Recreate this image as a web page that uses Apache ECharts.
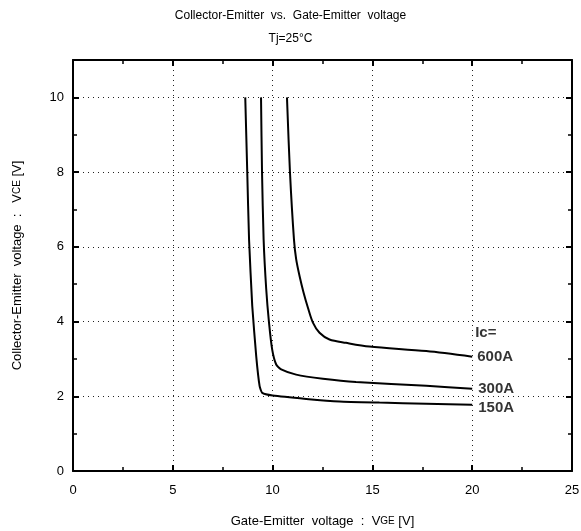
<!DOCTYPE html>
<html><head><meta charset="utf-8">
<script src="https://cdn.jsdelivr.net/npm/echarts@6/dist/echarts.min.js"></script>
<style>html,body{margin:0;padding:0;background:#fff}#c{width:581px;height:531px}</style>
</head><body><div id="c"></div>
<script>
// Data
const vge150 = [8.63, 8.73, 8.82, 8.98, 9.18, 9.35, 9.48, 10.0, 11.68, 13.35, 15.35, 17.7, 20.0];
const vce150 = [10, 8, 6.2, 4.42, 3.07, 2.27, 2.09, 2.02, 1.93, 1.86, 1.83, 1.80, 1.77];
const vge300 = [9.42, 9.47, 9.55, 9.68, 9.82, 9.98, 10.18, 10.43, 11.18, 12.52, 14.18, 17.7, 20.0];
const vce300 = [10, 8, 6.2, 4.87, 3.97, 3.25, 2.85, 2.72, 2.58, 2.47, 2.38, 2.28, 2.20];
const vge600 = [10.72, 10.87, 11.07, 11.18, 11.35, 11.55, 11.77, 12.02, 12.35, 12.85, 13.68, 14.85, 17.7, 20.0];
const vce600 = [10, 8, 6.2, 5.67, 5.22, 4.78, 4.37, 3.97, 3.70, 3.52, 3.43, 3.33, 3.21, 3.06];
const labelTexts = ['Ic=', '600A', '300A', '150A'];
const labelX = [19.95, 20.05, 20.1, 20.1];
const labelY = [3.70, 3.06, 2.20, 1.69];

const zip = (xs, ys) => xs.map((x, i) => [x, ys[i]]);
const font = 'Liberation Sans, Arial, sans-serif';
const chart = echarts.init(document.getElementById('c'));

function axisBase(extra) {
  return Object.assign({
    axisLine: { show: true, onZero: false, lineStyle: { color: '#000', width: 2 } },
    axisTick: { show: true, inside: true, length: 6, lineStyle: { color: '#000', width: 2 } },
    minorTick: { show: true, splitNumber: 2, length: 4, lineStyle: { color: '#000', width: 1.5 } },
    axisLabel: { color: '#000', fontFamily: font, fontSize: 13 },
    splitLine: { show: false }
  }, extra);
}
const gridLine = { show: true, lineStyle: { color: '#222', width: 1, type: [1, 4] } };

chart.setOption({
  animation: false,
  backgroundColor: '#fff',
  title: [
    { text: 'Collector-Emitter  vs.  Gate-Emitter  voltage', left: 'center', top: 5,
      textStyle: { fontFamily: font, fontSize: 12, fontWeight: 'normal', color: '#000' } },
    { text: 'Tj=25°C', left: 'center', top: 28,
      textStyle: { fontFamily: font, fontSize: 12, fontWeight: 'normal', color: '#000' } }
  ],
  grid: { left: 73, right: 9, top: 60, bottom: 60, outerBoundsMode: 'none', containLabel: false },
  xAxis: [
    axisBase({ type: 'value', position: 'bottom', min: 0, max: 25, interval: 5,
      axisLabel: { color: '#000', fontFamily: font, fontSize: 13, margin: 13 },
      splitLine: gridLine,
      name: '{a|Gate-Emitter  voltage  :  V}{b|GE}{a| [V]}',
      nameLocation: 'middle', nameGap: 44,
      nameTextStyle: { rich: {
        a: { fontFamily: font, fontSize: 13, color: '#000' },
        b: { fontFamily: font, fontSize: 10, color: '#000' } } } }),
    axisBase({ type: 'value', position: 'top', min: 0, max: 25, interval: 5,
      axisLabel: { show: false } })
  ],
  yAxis: [
    axisBase({ type: 'value', position: 'left', min: 0, max: 11, interval: 2,
      axisLabel: { color: '#000', fontFamily: font, fontSize: 13, margin: 9,
        showMaxLabel: false },
      splitLine: gridLine,
      name: '{a|Collector-Emitter  voltage  :   V}{b|CE}{a| [V]}',
      nameLocation: 'middle', nameGap: 49, nameRotate: 90,
      nameTextStyle: { rich: {
        a: { fontFamily: font, fontSize: 13, color: '#000' },
        b: { fontFamily: font, fontSize: 10, color: '#000' } } } }),
    axisBase({ type: 'value', position: 'right', min: 0, max: 11, interval: 2,
      axisLabel: { show: false } })
  ],
  series: [
    { type: 'line', data: zip(vge150, vce150), showSymbol: false, symbol: 'none', smooth: 0.15,
      lineStyle: { color: '#000', width: 2 } },
    { type: 'line', data: zip(vge300, vce300), showSymbol: false, symbol: 'none', smooth: 0.2,
      lineStyle: { color: '#000', width: 2 } },
    { type: 'line', data: zip(vge600, vce600), showSymbol: false, symbol: 'none', smooth: 0.3,
      lineStyle: { color: '#000', width: 2 } },
    { type: 'scatter', symbolSize: 0, silent: true,
      data: labelTexts.map((t, i) => ({ value: [labelX[i], labelY[i]], name: t })),
      label: { show: true, position: 'right', distance: 4, formatter: p => p.name,
        fontFamily: 'Liberation Sans, Arial, sans-serif',
        fontWeight: 'bold', fontSize: 15, color: '#000' } }
  ]
});
</script></body></html>
